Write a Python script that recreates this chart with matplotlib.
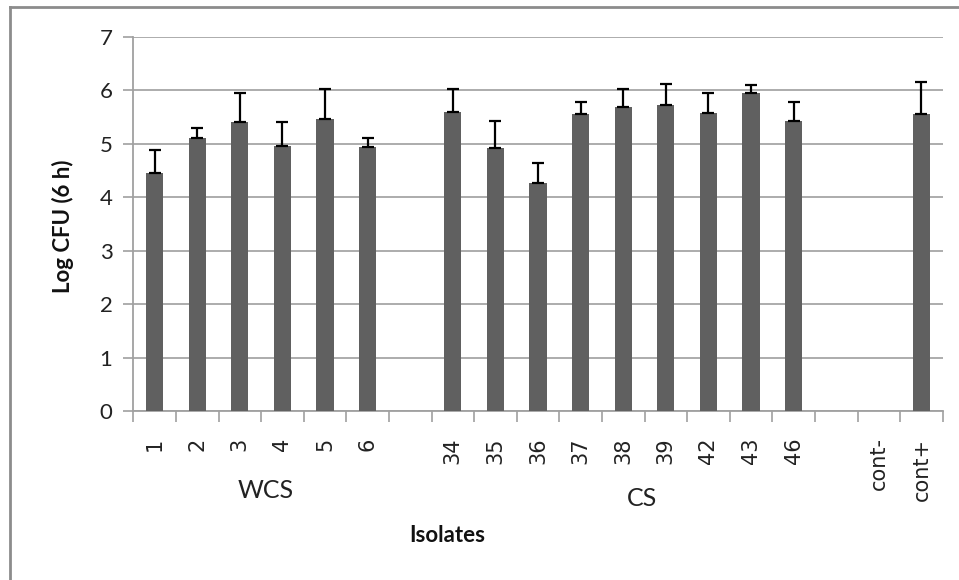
import numpy as np
import matplotlib
matplotlib.use("Agg")
import matplotlib.pyplot as plt
from matplotlib.lines import Line2D
from matplotlib.transforms import blended_transform_factory

# categories (blank slots are gaps between the groups)
labels = ['1', '2', '3', '4', '5', '6', '',
          '34', '35', '36', '37', '38', '39', '42', '43', '46', '',
          'cont-', 'cont+']
log_cfu = [4.46, 5.10, 5.41, 4.96, 5.46, 4.93, np.nan,
           5.60, 4.91, 4.26, 5.55, 5.68, 5.72, 5.58, 5.94, 5.42, np.nan,
           np.nan, 5.55]
err_up = [0.42, 0.20, 0.54, 0.44, 0.56, 0.18, np.nan,
          0.42, 0.51, 0.37, 0.23, 0.34, 0.40, 0.37, 0.16, 0.35, np.nan,
          np.nan, 0.60]
groups = ['WCS', 'CS']
group_pos = [2.6, 11.45]

fig = plt.figure(figsize=(9.59, 5.80), dpi=100)
ax = fig.add_axes([133.3 / 959, 1 - 411 / 580, (942.7 - 133.3) / 959, (411 - 36.7) / 580])

x = np.arange(len(labels))
vals = np.array(log_cfu, dtype=float)
errs = np.array(err_up, dtype=float)
ax.bar(x, vals, width=0.4, color='#606060', zorder=3)
ax.errorbar(x, vals, yerr=[np.zeros_like(errs), errs], fmt='none',
            ecolor='black', elinewidth=1.6, capsize=4, capthick=1.6, zorder=4)

ax.set_xlim(-0.5, len(labels) - 0.5)
ax.set_ylim(0, 7)
ax.set_yticks(range(8))
ax.yaxis.grid(True, color='#a6a6a6', linewidth=1.3, zorder=0)
ax.set_axisbelow(True)

# excel style: tick marks between categories, labels at centres
ax.set_xticks(np.arange(-0.5, len(labels), 1.0))
ax.set_xticklabels([])
ax.set_xticks(x, minor=True)
ax.set_xticklabels(labels, minor=True, rotation=90, fontsize=15,
                   family='DejaVu Sans', color='#222222', va='top')
ax.tick_params(axis='x', which='major', length=8, width=1.2, color='#a0a0a0', direction='out')
ax.tick_params(axis='x', which='minor', length=0, pad=19)
ax.tick_params(axis='y', length=7, width=1.2, color='#a0a0a0', direction='out', pad=8)
for t in ax.get_yticklabels():
    t.set_fontsize(16)
    t.set_family('Lato')
    t.set_color('#222222')

for s in ['top', 'right']:
    ax.spines[s].set_visible(False)
for s in ['left', 'bottom']:
    ax.spines[s].set_color('#a0a0a0')
    ax.spines[s].set_linewidth(1.3)

fig.text(63 / 959, 1 - 226 / 580, 'Log CFU (6 h)', rotation=90, ha='center', va='center',
         fontsize=16, fontweight='bold', family='Lato', color='#111111')

trans = blended_transform_factory(ax.transData, fig.transFigure)
ax.text(group_pos[0], 1 - 490 / 580, groups[0], transform=trans, ha='center', va='center',
        fontsize=18, family='Lato', color='#222222')
ax.text(group_pos[1], 1 - 498 / 580, groups[1], transform=trans, ha='center', va='center',
        fontsize=18, family='Lato', color='#222222')
fig.text(447 / 959, 1 - 535 / 580, 'Isolates', ha='center', va='center',
         fontsize=16, fontweight='bold', family='Lato', color='#111111')

# chart area border (left and top visible)
fig.add_artist(Line2D([10 / 959, 10 / 959], [0, 1 - 7 / 580], transform=fig.transFigure,
                      color='#8c8c8c', linewidth=2))
fig.add_artist(Line2D([10 / 959, 1], [1 - 7 / 580, 1 - 7 / 580], transform=fig.transFigure,
                      color='#8c8c8c', linewidth=2))

fig.savefig('out.png', dpi=100)
